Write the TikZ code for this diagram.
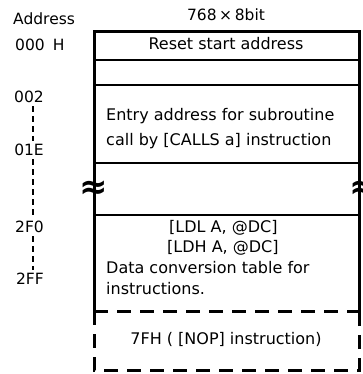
\documentclass[tikz,border=0pt]{standalone}
\usepackage{fontspec}
\setmainfont{DejaVu Sans}
\begin{document}
\begin{tikzpicture}[x=1pt,y=-1pt,
  txt/.style={font=\fontsize{16}{20}\selectfont, inner sep=0pt},
  lbl/.style={font=\fontsize{15.5}{20}\selectfont, inner sep=0pt},
  brk/.style={font=\fontsize{34}{34}\selectfont\bfseries, inner sep=0pt},
  frame/.style={line width=3pt, line cap=rect},
  rule/.style={line width=2.5pt},
  dashline/.style={line width=3pt, dash pattern=on 14pt off 9pt},
  addrdash/.style={line width=1.3pt, dash pattern=on 6pt off 4pt}]
\useasboundingbox (0,0) rectangle (362,374);

% frame corners and row boundaries
\coordinate (tl) at (94,32);  \coordinate (tr) at (359,32);
\coordinate (ml) at (94,311); \coordinate (mr) at (359,311);
\coordinate (bl) at (94,370); \coordinate (br) at (359,370);
\coordinate (r1l) at (94,60);  \coordinate (r1r) at (359,60);
\coordinate (r2l) at (94,85);  \coordinate (r2r) at (359,85);
\coordinate (r3l) at (94,163); \coordinate (r3r) at (359,163);
\coordinate (r4l) at (94,215); \coordinate (r4r) at (359,215);
\coordinate (axis) at (33,0);

% memory map frame
\draw[frame] (ml) -- (tl) -- (tr) -- (mr);
\draw[rule] (r1l) -- (r1r);
\draw[rule] (r2l) -- (r2r);
\draw[rule] (r3l) -- (r3r);
\draw[rule] (r4l) -- (r4r);
\draw[dashline] (ml) -- (mr);
\draw[dashline] (ml) -- (bl) -- (br) -- (mr);

% break marks
\node[brk] (brkl) at (94,190) {≈};
\node[brk, anchor=west] (brkr) at (349,190) {≈};

% headings
\node[lbl, anchor=mid] (title) at (226,18) {768\,×\,8bit};
\node[lbl, anchor=mid west] (addr) at (13,22) {Address};

% contents of the memory rows
\node[txt, anchor=mid] (reset) at (226,47) {Reset start address};
\node[txt, anchor=mid west] (entry1) at (106,118) {Entry address for subroutine};
\node[txt, anchor=mid west] (entry2) at (106,143) {call by [CALLS a] instruction};
\node[txt, anchor=mid west] (ldl) at (169,230) {[LDL A, @DC]};
\node[txt, anchor=mid west] (ldh) at (167,250) {[LDH A, @DC]};
\node[txt, anchor=mid west] (data1) at (106,271) {Data conversion table for};
\node[txt, anchor=mid west] (data2) at (106,292) {instructions.};
\node[txt, anchor=mid] (nop) at (226,342) {7FH ( [NOP] instruction)};

% address labels
\node[lbl, anchor=mid west] (a000) at (15,48) {000\hspace{8pt}H};
\node[lbl, anchor=mid east] (a002) at (44,100) {002};
\node[lbl, anchor=mid east] (a01E) at (44,153) {01E};
\node[lbl, anchor=mid east] (a2F0) at (44,230) {2F0};
\node[lbl, anchor=mid east] (a2FF) at (44,282) {2FF};

\draw[addrdash] ([yshift=-3pt]a002.south -| axis) -- ([yshift=3pt]a01E.north -| axis);
\draw[addrdash] ([yshift=-3pt]a01E.south -| axis) -- ([yshift=3pt]a2F0.north -| axis);
\draw[addrdash] ([yshift=-3pt]a2F0.south -| axis) -- ([yshift=3pt]a2FF.north -| axis);
\end{tikzpicture}
\end{document}
